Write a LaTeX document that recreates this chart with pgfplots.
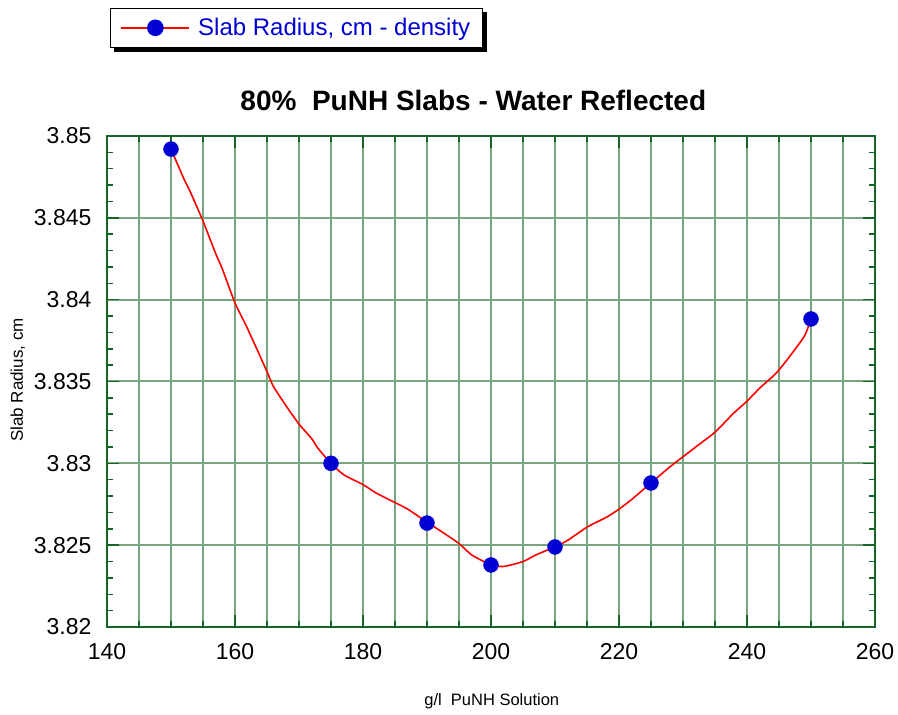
\documentclass[border=0pt]{standalone}
\usepackage{pgfplots}
\pgfplotsset{compat=1.18}
\usepackage{fontspec}
\setmainfont{Liberation Sans}
\definecolor{axgreen}{RGB}{20,100,40}
\definecolor{gridgreen}{RGB}{120,165,125}
\definecolor{ptblue}{RGB}{0,0,210}
\begin{document}
\begin{tikzpicture}
\begin{axis}[
  scale only axis,
  width=768pt, height=491pt,
  xmin=140, xmax=260, ymin=3.82, ymax=3.85,
  xtick={140,160,...,260},
  minor x tick num=3,
  ytick={3.82,3.825,3.83,3.835,3.84,3.845,3.85},
  minor y tick num=4,
  tick align=inside,
  major tick length=12pt, minor tick length=6pt,
  axis line style={axgreen, line width=2pt},
  every tick/.style={axgreen, line width=1.5pt},
  grid=both,
  xmajorgrids=true, xminorgrids=true, ymajorgrids=true, yminorgrids=false,
  major grid style={gridgreen, line width=2pt},
  minor grid style={gridgreen, line width=2pt},
  /pgf/number format/assume math mode=true,
  ticklabel style={font=\fontsize{23}{26}\selectfont},
  yticklabel style={/pgf/number format/fixed, /pgf/number format/precision=3, xshift=-12pt},
  xticklabel style={/pgf/number format/fixed, yshift=-13pt},
  scaled y ticks=false,
  title={\textbf{80\%\ \ PuNH Slabs - Water Reflected}},
  title style={at={(axis description cs:0.477,1.061)}, anchor=center, font=\fontsize{28}{31}\selectfont},
  xlabel={g/l\ \ PuNH Solution},
  xlabel style={at={(axis description cs:0.501,-0.152)}, anchor=center, font=\fontsize{16.5}{19}\selectfont},
  ylabel={Slab Radius, cm},
  ylabel style={at={(axis description cs:-0.116,0.503)}, anchor=center, font=\fontsize{17}{19}\selectfont},
  legend style={at={(axis description cs:0.004,1.261)}, anchor=north west, name=leg,
    draw=black, line width=1pt, fill=white, text=ptblue,
    font=\fontsize{24}{27}\selectfont, inner xsep=10pt, inner ysep=8pt},
]
\addplot[red, line width=1.6pt, no marks, smooth, tension=0.4,
  legend image code/.code={\draw[red, line width=1.6pt] (0pt,0pt) -- (68pt,0pt); \fill[ptblue] (34pt,0pt) circle (7.5pt); \path (74pt,0pt);}]
 coordinates {
(150,3.8492) (152,3.8474) (153,3.8466) (155,3.8448) (157,3.8428) (158,3.8419)
(160,3.8398) (162,3.8382) (165,3.8356) (166,3.8347) (168,3.8335) (170,3.8324)
(172,3.8315) (173,3.8309) (175,3.8300) (177,3.8293) (180,3.8287) (182,3.8282)
(185,3.8276) (187,3.8272) (190,3.8264) (192,3.8259) (195,3.8251) (197,3.8244)
(200,3.8238) (202,3.8237) (205,3.8240) (207,3.8244) (210,3.8249) (212,3.8253)
(215,3.8261) (218,3.8267) (220,3.8272) (222,3.8278) (225,3.8288) (228,3.8298)
(230,3.8304) (233,3.8313) (235,3.8319) (237,3.8327) (238,3.8331) (240,3.8338)
(242,3.8346) (244,3.8353) (245,3.8357) (247,3.8367) (249,3.8378) (250,3.8388)
};
\addlegendentry{Slab Radius, cm - density\hspace{5pt}}
\addplot[only marks, mark=*, mark size=7.5pt, mark options={fill=ptblue, draw=ptblue}, forget plot]
 coordinates {(150,3.8492) (175,3.8300) (190,3.82635) (200,3.82379) (210,3.82489) (225,3.8288) (250,3.83882)};
\end{axis}
\fill[black] ([shift={(0.5pt,-4pt)}]leg.north east) rectangle ([shift={(4.5pt,-4.5pt)}]leg.south east);
\fill[black] ([shift={(4pt,-0.5pt)}]leg.south west) rectangle ([shift={(4.5pt,-4.5pt)}]leg.south east);
\pgfresetboundingbox
\useasboundingbox (-107pt,-88pt) rectangle (791pt,627pt);
\end{tikzpicture}
\end{document}
